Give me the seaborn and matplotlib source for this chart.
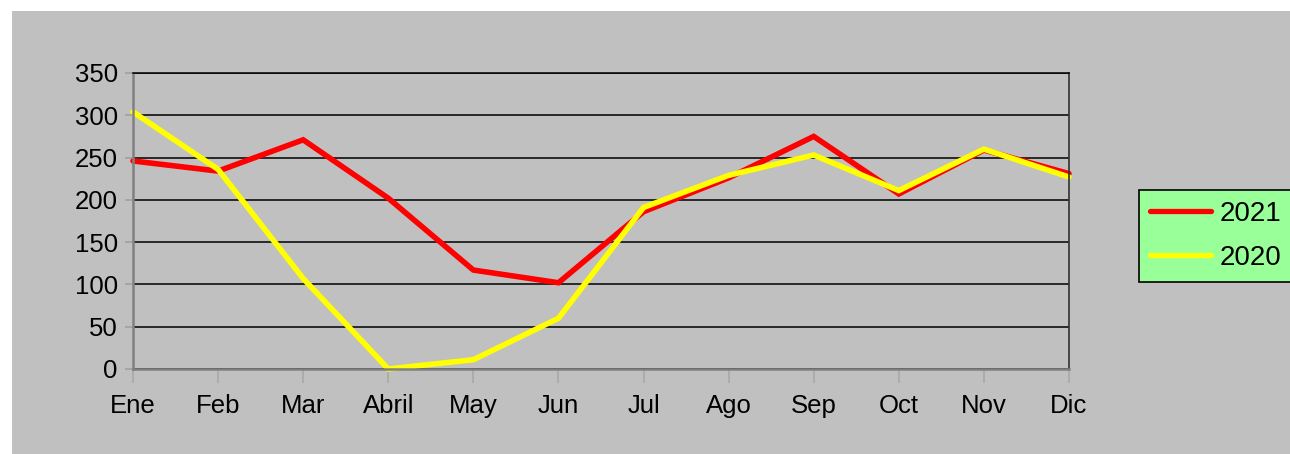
import pandas as pd
import matplotlib.pyplot as plt
from matplotlib.patches import Rectangle
import seaborn as sns

# data
months = ['Ene', 'Feb', 'Mar', 'Abril', 'May', 'Jun',
          'Jul', 'Ago', 'Sep', 'Oct', 'Nov', 'Dic']
values_2021 = [246, 234, 271, 202, 117, 102, 186, 226, 275, 207, 259, 231]
values_2020 = [304, 236, 107, 0, 11, 60, 191, 229, 253, 211, 260, 227]
years = ['2021', '2020']
colors = {'2021': '#FF0000', '2020': '#FFFF00'}

df = pd.DataFrame({
    'idx': list(range(len(months))) * 2,
    'value': values_2021 + values_2020,
    'year': ['2021'] * len(months) + ['2020'] * len(months),
})

sns.set_style('white')
plt.rcParams['font.family'] = ['Liberation Sans', 'DejaVu Sans']
plt.rcParams['text.color'] = 'black'

W, H = 1290, 454
fig = plt.figure(figsize=(W / 100, H / 100), dpi=100)
fig.patch.set_facecolor('white')

# grey chart area behind everything
fig.patches.append(Rectangle((12 / W, 0), 1 - 12 / W, 1 - 11 / H,
                             transform=fig.transFigure, facecolor='#C0C0C0',
                             edgecolor='none', zorder=-10))

ax = fig.add_axes([133 / W, 1 - 369 / H, (1069 - 133) / W, (369 - 73) / H])
ax.set_facecolor('#C0C0C0')

sns.lineplot(data=df, x='idx', y='value', hue='year', hue_order=years,
             palette=colors, linewidth=4, ax=ax, legend=False, sort=False)
for ln in ax.lines:
    ln.set_clip_on(False)
    ln.set_solid_joinstyle('miter')

ax.set_xlim(0, len(months) - 1)
ax.set_ylim(0, 350)
ax.set_yticks(range(0, 351, 50))
ax.set_xticks(range(len(months)))
ax.set_xticklabels(months)
ax.set_xlabel('')
ax.set_ylabel('')

ax.yaxis.grid(True, color='black', linewidth=1.1)
ax.set_axisbelow(True)
ax.tick_params(axis='y', length=6, color='#A0A0A0', width=1.2,
               labelsize=18.5, pad=5, labelcolor='black')
ax.tick_params(axis='x', length=10, color='#A8A8A8', width=1.2,
               labelsize=18.5, pad=8, direction='out', labelcolor='black')
ax.tick_params(left=True, bottom=True)

for side in ['left', 'bottom']:
    ax.spines[side].set_color('#808080')
    ax.spines[side].set_linewidth(1.8)
ax.spines['right'].set_color('#303030')
ax.spines['right'].set_linewidth(1.2)
ax.spines['top'].set_color('black')
ax.spines['top'].set_linewidth(1.1)

# legend
handles = [plt.Line2D([], [], color=colors[y], linewidth=3.8) for y in years]
leg = fig.legend(handles, years, loc='center left',
                 bbox_to_anchor=(1139 / W, 1 - 236 / H),
                 fontsize=20, frameon=True, fancybox=False,
                 facecolor='#99FF99', edgecolor='black', framealpha=1,
                 handlelength=2.2, handletextpad=0.3, labelspacing=0.65,
                 borderpad=0.4, borderaxespad=0)
leg.get_frame().set_linewidth(1.2)
for t in leg.get_texts():
    t.set_color('black')

plt.savefig('out.png', dpi=100)
